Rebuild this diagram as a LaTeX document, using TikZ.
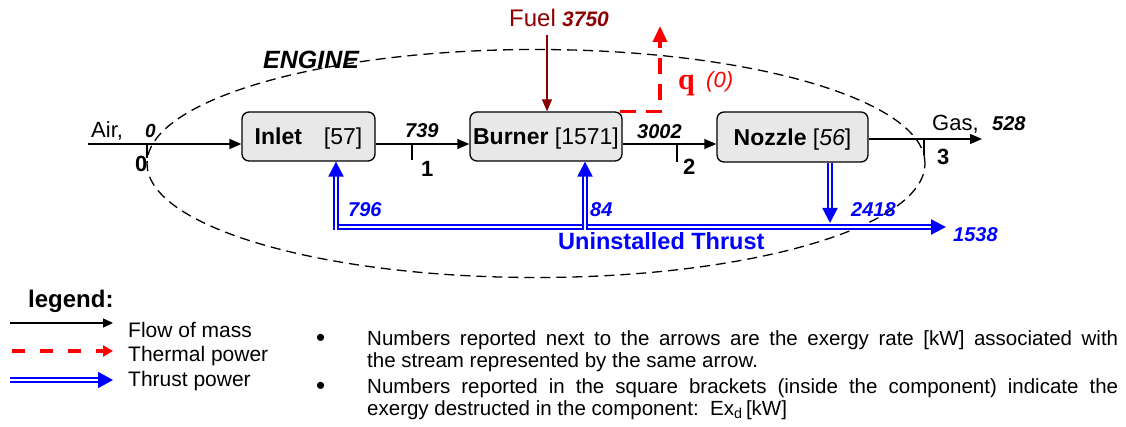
\documentclass[tikz,border=0pt]{standalone}
\usepackage{fontspec}
\setmainfont{Liberation Sans}
\newfontfamily\qserif{Liberation Serif}
\usetikzlibrary{arrows.meta}
\definecolor{fuelred}{RGB}{139,0,0}
\definecolor{thermred}{RGB}{255,0,0}
\definecolor{thrustblue}{RGB}{0,0,255}
\definecolor{boxgray}{RGB}{232,232,232}
\newcommand\fsz[1]{\fontsize{#1}{#1}\selectfont}
\begin{document}
\begin{tikzpicture}[x=1pt,y=-1pt,
  every node/.style={font=\fsz{21}},
  comp/.style={draw, line width=1.3pt, rounded corners=7pt, fill=boxgray, inner sep=0pt,
    text height=16.5pt, text depth=0pt, font=\fsz{23}},
  flow/.style={line width=1.3pt, -{Triangle[length=12pt,width=10pt]}},
  fuelflow/.style={draw=fuelred, line width=1.3pt, -{Triangle[length=12pt,width=10pt]}},
  thermal/.style={draw=thermred, line width=3.5pt, dash pattern=on 16pt off 10pt,
    -{Triangle[length=16pt,width=14pt]}},
  thrust/.style={draw=thrustblue, line width=2.2pt, double=white, double distance=2pt,
    -{Triangle[length=15pt,width=15pt]}},
  tickline/.style={line width=1.3pt},
  envelope/.style={draw, line width=1.3pt, dash pattern=on 10pt off 6pt},
  lbl/.style={anchor=base west, inner sep=0pt},
  val/.style={lbl, font=\fsz{20}\bfseries\itshape},
  bval/.style={val, text=thrustblue},
  station/.style={lbl, font=\fsz{22}\bfseries}
]
\useasboundingbox (0,0) rectangle (1126,427);

% engine envelope
\draw[envelope] (536,163.5) ellipse [x radius=389pt, y radius=114pt];
\node[lbl, font=\fsz{25}\bfseries\itshape] (engine) at (263,69) {ENGINE};

% components
\node[comp, minimum width=133pt, minimum height=49pt] (inlet) at (308.5,136.5)
  {\bfseries Inlet\hspace{22pt}\mdseries[57]};
\node[comp, minimum width=152pt, minimum height=49pt] (burner) at (546,136.5)
  {\bfseries Burner \mdseries[1571]};
\node[comp, minimum width=151pt, minimum height=50pt] (nozzle) at (792.5,137)
  {\bfseries Nozzle \mdseries[\textit{56}]};

% mass flow
\coordinate (airin) at (88,144);
\coordinate (gasout) at (982,139);
\draw[flow] (airin) -- (airin -| inlet.west);
\draw[flow] (inlet.east |- airin) -- (burner.west |- airin);
\draw[flow] (burner.east |- airin) -- (nozzle.west |- airin);
\draw[flow] (nozzle.east |- gasout) -- (gasout);

% stations
\coordinate (st0) at (147,144);
\coordinate (st1) at (412,144);
\coordinate (st2) at (677,144);
\coordinate (st3) at (924,139);
\draw[tickline] (st0) -- ++(0,14);
\draw[tickline] (st1) -- ++(0,16);
\draw[tickline] (st2) -- ++(0,18);
\draw[tickline] (st3) -- ++(0,16);
\node[station] (n0) at (135,172) {0};
\node[station] (n1) at (421,177) {1};
\node[station] (n2) at (683,175) {2};
\node[station] (n3) at (937,165) {3};

% stream labels
\node[lbl, font=\fsz{22}] (air) at (91,138) {Air,};
\node[val, font=\fsz{19}\bfseries\itshape] (v0) at (145,138) {0};
\node[val] (v739) at (405,138) {739};
\node[val] (v3002) at (637,139) {3002};
\node[lbl, font=\fsz{22}] (gas) at (932,131) {Gas,};
\node[val] (v528) at (992,131) {528};

% fuel
\coordinate (fuelsrc) at (547,35);
\draw[fuelflow] (fuelsrc) -- (fuelsrc |- burner.north);
\node[lbl, font=\fsz{24}, text=fuelred] (fuel) at (509,27) {Fuel};
\node[val, font=\fsz{21}\bfseries\itshape, text=fuelred] (v3750) at (562,27) {3750};

% heat
\coordinate (qtip) at (660,26);
\draw[thermal] ([xshift=-3pt]burner.north east) -| (qtip);
\node[lbl, font=\fsz{30}\qserif\bfseries, text=thermred] (q) at (678,90) {q};
\node[lbl, font=\fsz{22}\itshape, text=thermred] (q0) at (706,88) {(0)};

% thrust
\coordinate (thl) at (336,227);
\coordinate (thl0) at (336,230.2);
\coordinate (thr) at (946,227);
\coordinate (thb) at (585,230.2);
\coordinate (thn) at (830,223);
\draw[thrust] (thl) -- (thr);
\draw[thrust] (thl0) -- (thl0 |- inlet.south);
\draw[thrust] (thb) -- (thb |- burner.south);
\draw[thrust] (thn |- nozzle.south) -- (thn);
\node[bval] (v796) at (348,217) {796};
\node[bval] (v84) at (590,217) {84};
\node[bval] (v2418) at (851,217) {2418};
\node[bval] (v1538) at (953,242) {1538};
\node[lbl, font=\fsz{23.5}\bfseries, text=thrustblue] (unth) at (558,250) {Uninstalled Thrust};

% legend
\node[lbl, font=\fsz{24}\bfseries] (legend) at (28,308) {legend:};
\coordinate (lgaA) at (10,323);  \coordinate (lgaB) at (113,323);
\coordinate (lgbA) at (12,351);  \coordinate (lgbB) at (113,351);
\coordinate (lgcA) at (10,380);  \coordinate (lgcB) at (113,380);
\draw[flow, -{Triangle[length=10pt,width=9pt]}] (lgaA) -- (lgaB);
\draw[thermal, line width=4pt, dash pattern=on 13pt off 15pt,
  -{Triangle[length=10pt,width=11pt]}] (lgbA) -- (lgbB);
\draw[thrust, -{Triangle[length=15pt,width=16pt]}] (lgcA) -- (lgcB);
\node[lbl] (lga) at (128,337) {Flow of mass};
\node[lbl] (lgb) at (128,361) {Thermal power};
\node[lbl] (lgc) at (128,386) {Thrust power};

% notes
\node[lbl, font=\fsz{26}] (bul1) at (316,346) {•};
\node[lbl, font=\fsz{26}] (bul2) at (316,394) {•};
\node[lbl, font=\fsz{20.5}] (t1a) at (367,345)
  {\makebox[751pt][s]{Numbers reported next to the arrows are the exergy rate [kW] associated with}};
\node[lbl, font=\fsz{20.5}] (t1b) at (367,367) {the stream represented by the same arrow.};
\node[lbl, font=\fsz{20.5}] (t2a) at (367,393)
  {\makebox[751pt][s]{Numbers reported in the square brackets (inside the component) indicate the}};
\node[lbl, font=\fsz{20.5}] (t2b) at (367,415)
  {exergy destructed in the component:\ \ Ex\textsubscript{d}\,[kW]};
\end{tikzpicture}
\end{document}
